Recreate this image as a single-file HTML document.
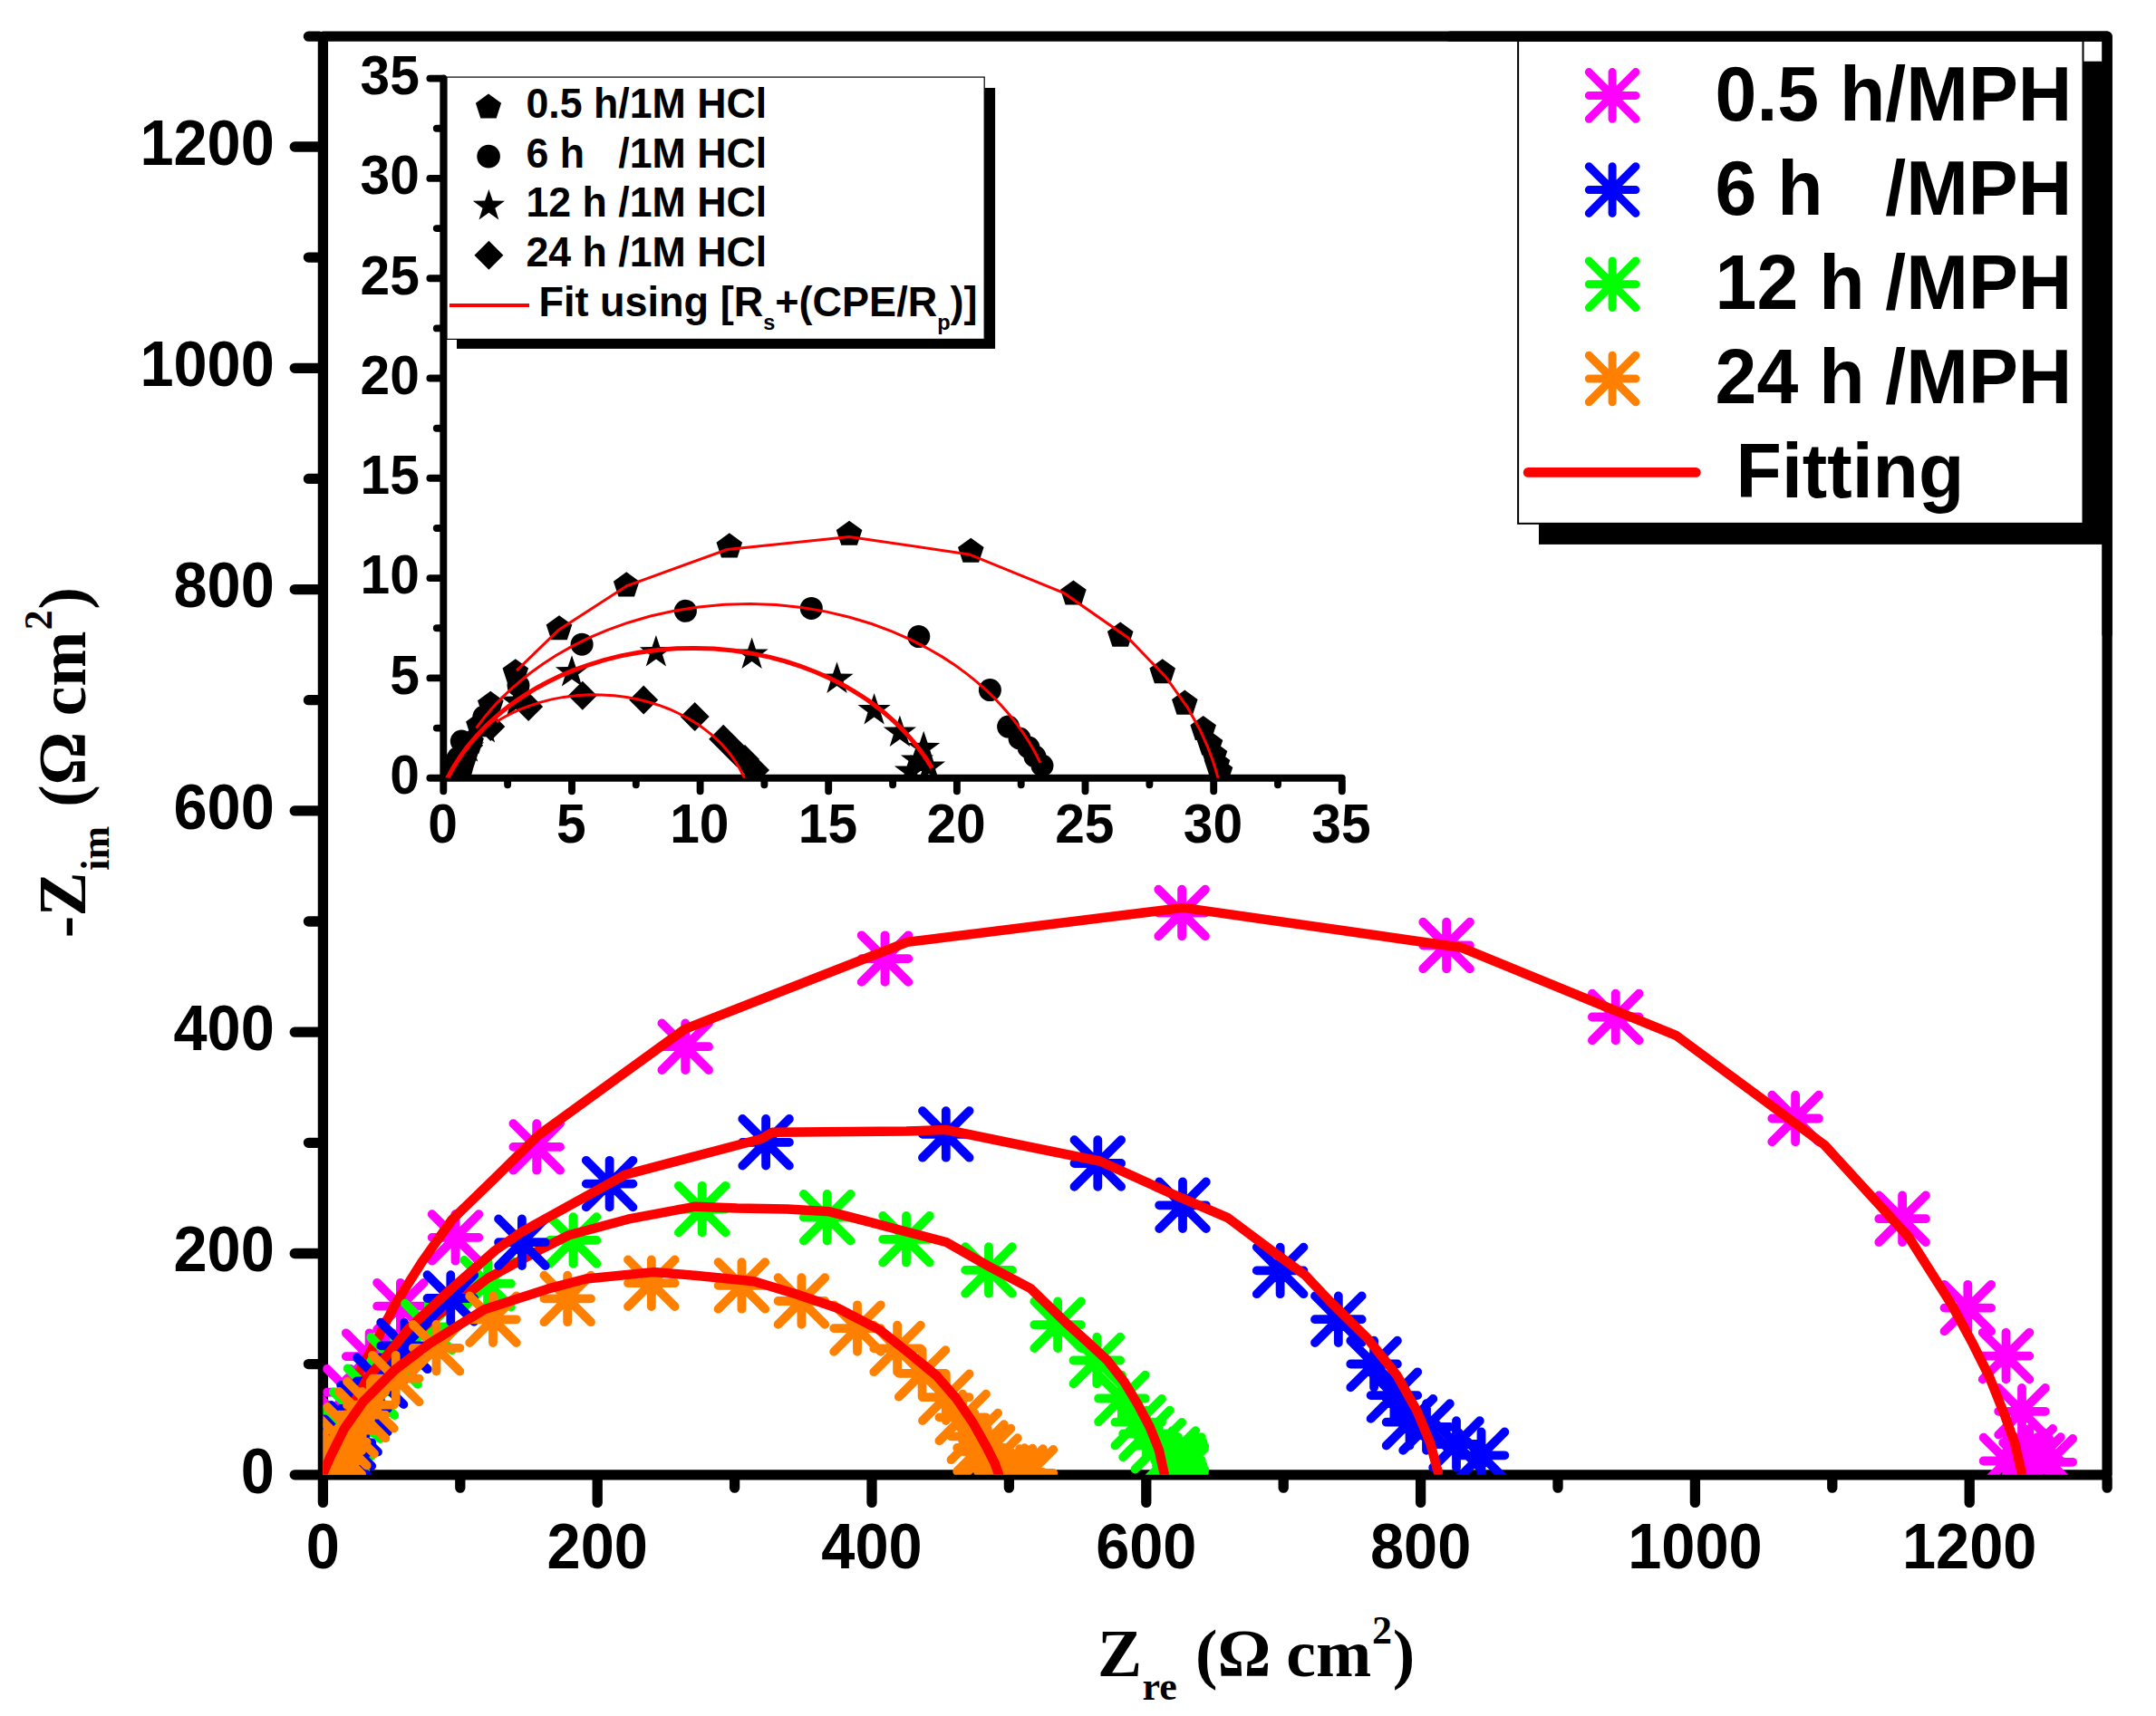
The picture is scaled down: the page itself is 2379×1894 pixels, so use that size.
<!DOCTYPE html><html><head><meta charset="utf-8"><title>Nyquist plot</title><style>html,body{margin:0;padding:0;background:#fff}svg{display:block}</style></head><body><svg width="2379" height="1894" viewBox="0 0 2379 1894">
<defs><clipPath id="cm"><rect x="356.4" y="40.2" width="1968.7" height="1587.6"/></clipPath>
<clipPath id="ci"><rect x="489.3" y="86.5" width="991.5" height="772.2"/></clipPath></defs>
<rect width="2379" height="1894" fill="#fff"/>
<g stroke="#000" stroke-width="11.3" stroke-linecap="round" stroke-linejoin="round" fill="none"><path d="M356.4 40.2H2325.1V1627.8H356.4Z"/><path d="M352.4 1627.8H325.2M356.4 1631.8V1658.4M352.4 1505.6H340.4M507.8 1631.8V1642.2M352.4 1383.5H325.2M659.2 1631.8V1658.4M352.4 1261.3H340.4M810.6 1631.8V1642.2M352.4 1139.2H325.2M962 1631.8V1658.4M352.4 1017H340.4M1113.4 1631.8V1642.2M352.4 894.9H325.2M1264.8 1631.8V1658.4M352.4 772.7H340.4M1416.2 1631.8V1642.2M352.4 650.6H325.2M1567.6 1631.8V1658.4M352.4 528.4H340.4M1719 1631.8V1642.2M352.4 406.3H325.2M1870.4 1631.8V1658.4M352.4 284.1H340.4M2021.8 1631.8V1642.2M352.4 162H325.2M2173.2 1631.8V1658.4M352.4 40.2H340.4M2325.1 1631.8V1642.2"/></g>
<g font-family="'Liberation Sans',Arial,sans-serif" font-weight="bold" font-size="66.7" fill="#000">
<text transform="translate(302.8 1647.6) scale(1 1.045)" text-anchor="end">0</text>
<text transform="translate(302.8 1403.3) scale(1 1.045)" text-anchor="end">200</text>
<text transform="translate(302.8 1159) scale(1 1.045)" text-anchor="end">400</text>
<text transform="translate(302.8 914.7) scale(1 1.045)" text-anchor="end">600</text>
<text transform="translate(302.8 670.4) scale(1 1.045)" text-anchor="end">800</text>
<text transform="translate(302.8 426.1) scale(1 1.045)" text-anchor="end">1000</text>
<text transform="translate(302.8 181.8) scale(1 1.045)" text-anchor="end">1200</text>
<text transform="translate(356.4 1730.7) scale(1 1.045)" text-anchor="middle">0</text>
<text transform="translate(659.2 1730.7) scale(1 1.045)" text-anchor="middle">200</text>
<text transform="translate(962 1730.7) scale(1 1.045)" text-anchor="middle">400</text>
<text transform="translate(1264.8 1730.7) scale(1 1.045)" text-anchor="middle">600</text>
<text transform="translate(1567.6 1730.7) scale(1 1.045)" text-anchor="middle">800</text>
<text transform="translate(1870.4 1730.7) scale(1 1.045)" text-anchor="middle">1000</text>
<text transform="translate(2173.2 1730.7) scale(1 1.045)" text-anchor="middle">1200</text>
</g>
<g font-family="'Liberation Serif','Times New Roman',serif" font-weight="bold" fill="#000">
<text y="1849.5"><tspan x="1211.1" y="1849.5" font-size="73.5">Z</tspan><tspan x="1260.4" y="1875.7" font-size="44">re</tspan><tspan x="1319.1" y="1849.5" font-size="73.5">(</tspan><tspan x="1343.5" y="1849.5" font-size="73.5">Ω</tspan><tspan x="1419.3" y="1849.5" font-size="73.5">cm</tspan><tspan x="1514" y="1814.2" font-size="44">2</tspan><tspan x="1536.8" y="1849.5" font-size="73.5">)</tspan></text>
<text transform="translate(93.8 1034) rotate(-90)"><tspan x="-1.2" y="0" font-size="73.5">-</tspan><tspan x="22.5" y="0" font-size="73.5">Z</tspan><tspan x="73.2" y="26.2" font-size="44">im</tspan><tspan x="143.2" y="0" font-size="73.5">(</tspan><tspan x="167.6" y="0" font-size="73.5">Ω</tspan><tspan x="243.7" y="0" font-size="73.5">cm</tspan><tspan x="338.7" y="-36.5" font-size="44">2</tspan><tspan x="361.6" y="0" font-size="73.5">)</tspan></text>
</g>
<g clip-path="url(#cm)" fill="none" stroke-linecap="round" stroke-linejoin="round">
<path stroke="#ff00ff" stroke-width="9.8" d="M331.8 1627H383.4M357.6 1601.2V1652.8M331.8 1601.2L383.4 1652.8M331.8 1652.8L383.4 1601.2M331.9 1626.6H383.5M357.7 1600.8V1652.4M331.9 1600.8L383.5 1652.4M331.9 1652.4L383.5 1600.8M332.1 1626H383.7M357.9 1600.2V1651.8M332.1 1600.2L383.7 1651.8M332.1 1651.8L383.7 1600.2M332.3 1625.2H383.9M358.1 1599.4V1651M332.3 1599.4L383.9 1651M332.3 1651L383.9 1599.4M332.7 1623.9H384.3M358.5 1598.1V1649.7M332.7 1598.1L384.3 1649.7M332.7 1649.7L384.3 1598.1M333.2 1622H384.8M359 1596.2V1647.8M333.2 1596.2L384.8 1647.8M333.2 1647.8L384.8 1596.2M334 1619.2H385.6M359.8 1593.4V1645M334 1593.4L385.6 1645M334 1645L385.6 1593.4M335.2 1615.1H386.8M361 1589.3V1640.9M335.2 1589.3L386.8 1640.9M335.2 1640.9L386.8 1589.3M337.1 1609H388.7M362.9 1583.2V1634.8M337.1 1583.2L388.7 1634.8M337.1 1634.8L388.7 1583.2M340 1600H391.6M365.8 1574.2V1625.8M340 1574.2L391.6 1625.8M340 1625.8L391.6 1574.2M344.4 1586.7H396M370.2 1560.9V1612.5M344.4 1560.9L396 1612.5M344.4 1612.5L396 1560.9M351.5 1567.3H403.1M377.3 1541.5V1593.1M351.5 1541.5L403.1 1593.1M351.5 1593.1L403.1 1541.5M360.8 1536.7H412.4M386.6 1510.9V1562.5M360.8 1510.9L412.4 1562.5M360.8 1562.5L412.4 1510.9M381.8 1497.1H433.4M407.6 1471.3V1522.9M381.8 1471.3L433.4 1522.9M381.8 1522.9L433.4 1471.3M416.1 1441.6H467.7M441.9 1415.8V1467.4M416.1 1415.8L467.7 1467.4M416.1 1467.4L467.7 1415.8M476.7 1365.9H528.3M502.5 1340.1V1391.7M476.7 1340.1L528.3 1391.7M476.7 1391.7L528.3 1340.1M566.4 1265.9H618M592.2 1240.1V1291.7M566.4 1240.1L618 1291.7M566.4 1291.7L618 1240.1M730.4 1155.2H782M756.2 1129.4V1181M730.4 1129.4L782 1181M730.4 1181L782 1129.4M950.7 1058.1H1002.3M976.5 1032.3V1083.9M950.7 1032.3L1002.3 1083.9M950.7 1083.9L1002.3 1032.3M1278.3 1007.5H1329.9M1304.1 981.7V1033.3M1278.3 981.7L1329.9 1033.3M1278.3 1033.3L1329.9 981.7M1570.3 1043.5H1621.9M1596.1 1017.7V1069.3M1570.3 1017.7L1621.9 1069.3M1570.3 1069.3L1621.9 1017.7M1756.9 1122.5H1808.5M1782.7 1096.7V1148.3M1756.9 1096.7L1808.5 1148.3M1756.9 1148.3L1808.5 1096.7M1955.3 1234.5H2006.9M1981.1 1208.7V1260.3M1955.3 1208.7L2006.9 1260.3M1955.3 1260.3L2006.9 1208.7M2073.3 1345.2H2124.9M2099.1 1319.4V1371M2073.3 1319.4L2124.9 1371M2073.3 1371L2124.9 1319.4M2145.5 1443.6H2197.1M2171.3 1417.8V1469.4M2145.5 1417.8L2197.1 1469.4M2145.5 1469.4L2197.1 1417.8M2187.7 1496.6H2239.3M2213.5 1470.8V1522.4M2187.7 1470.8L2239.3 1522.4M2187.7 1522.4L2239.3 1470.8M2205.2 1557.8H2256.8M2231 1532V1583.6M2205.2 1532L2256.8 1583.6M2205.2 1583.6L2256.8 1532M2213.5 1602.7H2265.1M2239.3 1576.9V1628.5M2213.5 1576.9L2265.1 1628.5M2213.5 1628.5L2265.1 1576.9M2188.7 1612.5H2240.3M2214.5 1586.7V1638.3M2188.7 1586.7L2240.3 1638.3M2188.7 1638.3L2240.3 1586.7M2235.5 1613.8H2287.1M2261.3 1588V1639.6M2235.5 1588L2287.1 1639.6M2235.5 1639.6L2287.1 1588M2210.2 1618H2261.8M2236 1592.2V1643.8M2210.2 1592.2L2261.8 1643.8M2210.2 1643.8L2261.8 1592.2M2222.2 1612H2273.8M2248 1586.2V1637.8M2222.2 1586.2L2273.8 1637.8M2222.2 1637.8L2273.8 1586.2"/>
<polyline stroke="#ff0000" stroke-width="10.5" points="357.5,1626.5 364.7,1607.3 372,1590 383,1560 397,1513.3 417.4,1475.8 435.9,1439.9 465.3,1393.2 498.4,1346.6 546.4,1300 594,1253 756.2,1135.6 1001,1039.8 1305.9,1001.9 1612,1045.7 1849.5,1142.9 2013.1,1263.6 2106.3,1365.6 2153.5,1440 2176.7,1482.8 2195.1,1519.6 2212.2,1562.4 2223.2,1593 2230.6,1625"/>
<path stroke="#00ff00" stroke-width="9.8" d="M341.4 1625.1H393M367.2 1599.3V1650.9M341.4 1599.3L393 1650.9M341.4 1650.9L393 1599.3M341.7 1624H393.3M367.5 1598.2V1649.8M341.7 1598.2L393.3 1649.8M341.7 1649.8L393.3 1598.2M342.3 1622.3H393.9M368.1 1596.5V1648.1M342.3 1596.5L393.9 1648.1M342.3 1648.1L393.9 1596.5M343 1619.9H394.6M368.8 1594.1V1645.7M343 1594.1L394.6 1645.7M343 1645.7L394.6 1594.1M344.1 1616.5H395.7M369.9 1590.7V1642.3M344.1 1590.7L395.7 1642.3M344.1 1642.3L395.7 1590.7M345.8 1611.7H397.4M371.6 1585.9V1637.5M345.8 1585.9L397.4 1637.5M345.8 1637.5L397.4 1585.9M348.3 1604.8H399.9M374.1 1579V1630.6M348.3 1579L399.9 1630.6M348.3 1630.6L399.9 1579M352.2 1595H403.8M378 1569.2V1620.8M352.2 1569.2L403.8 1620.8M352.2 1620.8L403.8 1569.2M358.2 1581.3H409.8M384 1555.5V1607.1M358.2 1555.5L409.8 1607.1M358.2 1607.1L409.8 1555.5M367.9 1562.2H419.5M393.7 1536.4V1588M367.9 1536.4L419.5 1588M367.9 1588L419.5 1536.4M383.6 1536.2H435.2M409.4 1510.4V1562M383.6 1510.4L435.2 1562M383.6 1562L435.2 1510.4M409.3 1502H460.9M435.1 1476.2V1527.8M409.3 1476.2L460.9 1527.8M409.3 1527.8L460.9 1476.2M447.1 1464.5H498.7M472.9 1438.7V1490.3M447.1 1438.7L498.7 1490.3M447.1 1490.3L498.7 1438.7M512.3 1416.7H563.9M538.1 1390.9V1442.5M512.3 1390.9L563.9 1442.5M512.3 1442.5L563.9 1390.9M606.7 1368.9H658.3M632.5 1343.1V1394.7M606.7 1343.1L658.3 1394.7M606.7 1394.7L658.3 1343.1M748.9 1334.6H800.5M774.7 1308.8V1360.4M748.9 1308.8L800.5 1360.4M748.9 1360.4L800.5 1308.8M886.9 1343.7H938.5M912.7 1317.9V1369.5M886.9 1317.9L938.5 1369.5M886.9 1369.5L938.5 1317.9M974.2 1367.8H1025.8M1000 1342V1393.6M974.2 1342L1025.8 1393.6M974.2 1393.6L1025.8 1342M1065.2 1401.9H1116.8M1091 1376.1V1427.7M1065.2 1376.1L1116.8 1427.7M1065.2 1427.7L1116.8 1376.1M1141.3 1462.2H1192.9M1167.1 1436.4V1488M1141.3 1436.4L1192.9 1488M1141.3 1488L1192.9 1436.4M1184.5 1501.5H1236.1M1210.3 1475.7V1527.3M1184.5 1475.7L1236.1 1527.3M1184.5 1527.3L1236.1 1475.7M1212.1 1543.5H1263.7M1237.9 1517.7V1569.3M1212.1 1517.7L1263.7 1569.3M1212.1 1569.3L1263.7 1517.7M1230.4 1569.7H1282M1256.2 1543.9V1595.5M1230.4 1543.9L1282 1595.5M1230.4 1595.5L1282 1543.9M1239.2 1582.4H1290.8M1265 1556.6V1608.2M1239.2 1556.6L1290.8 1608.2M1239.2 1608.2L1290.8 1556.6M1252.5 1595.7H1304.1M1278.3 1569.9V1621.5M1252.5 1569.9L1304.1 1621.5M1252.5 1621.5L1304.1 1569.9M1267.6 1604.9H1319.2M1293.4 1579.1V1630.7M1267.6 1579.1L1319.2 1630.7M1267.6 1630.7L1319.2 1579.1M1275.9 1617.4H1327.5M1301.7 1591.6V1643.2M1275.9 1591.6L1327.5 1643.2M1275.9 1643.2L1327.5 1591.6M1277.7 1622H1329.3M1303.5 1596.2V1647.8M1277.7 1596.2L1329.3 1647.8M1277.7 1647.8L1329.3 1596.2M1274.2 1612H1325.8M1300 1586.2V1637.8M1274.2 1586.2L1325.8 1637.8M1274.2 1637.8L1325.8 1586.2M1277.2 1625H1328.8M1303 1599.2V1650.8M1277.2 1599.2L1328.8 1650.8M1277.2 1650.8L1328.8 1599.2"/>
<polyline stroke="#ff0000" stroke-width="10.5" points="357.5,1626.5 364.7,1607.3 372,1590 385,1562 405,1530 425,1505 451,1478.5 481.4,1452.7 519.2,1425.5 538.1,1410.8 600,1377.2 627.8,1363.3 692.8,1345.7 767,1331.7 813.4,1333.6 869,1334.5 915.4,1337.3 961.8,1349.4 1000,1359.5 1044.1,1371 1092.8,1398.6 1136.8,1421.8 1176.3,1460 1198.7,1480 1222.1,1501.7 1240.4,1525.1 1255.5,1550.1 1268.8,1575.2 1278.8,1600.2 1284.7,1626.9"/>
<path stroke="#0000ff" stroke-width="9.8" d="M346.3 1626H397.9M372.1 1600.2V1651.8M346.3 1600.2L397.9 1651.8M346.3 1651.8L397.9 1600.2M346.6 1625.2H398.2M372.4 1599.4V1651M346.6 1599.4L398.2 1651M346.6 1651L398.2 1599.4M347 1624H398.6M372.8 1598.2V1649.8M347 1598.2L398.6 1649.8M347 1649.8L398.6 1598.2M347.5 1622.2H399.1M373.3 1596.4V1648M347.5 1596.4L399.1 1648M347.5 1648L399.1 1596.4M348.4 1619.7H400M374.2 1593.9V1645.5M348.4 1593.9L400 1645.5M348.4 1645.5L400 1593.9M349.6 1616.1H401.2M375.4 1590.3V1641.9M349.6 1590.3L401.2 1641.9M349.6 1641.9L401.2 1590.3M351.5 1610.8H403.1M377.3 1585V1636.6M351.5 1585L403.1 1636.6M351.5 1636.6L403.1 1585M354.3 1603.2H405.9M380.1 1577.4V1629M354.3 1577.4L405.9 1629M354.3 1629L405.9 1577.4M358.6 1592.3H410.2M384.4 1566.5V1618.1M358.6 1566.5L410.2 1618.1M358.6 1618.1L410.2 1566.5M365.4 1576.8H417M391.2 1551V1602.6M365.4 1551L417 1602.6M365.4 1602.6L417 1551M376.2 1554.8H427.8M402 1529V1580.6M376.2 1529L427.8 1580.6M376.2 1580.6L427.8 1529M393.8 1524.3H445.4M419.6 1498.5V1550.1M393.8 1498.5L445.4 1550.1M393.8 1550.1L445.4 1498.5M420.2 1485.4H471.8M446 1459.6V1511.2M420.2 1459.6L471.8 1511.2M420.2 1511.2L471.8 1459.6M471.5 1433H523.1M497.3 1407.2V1458.8M471.5 1407.2L523.1 1458.8M471.5 1458.8L523.1 1407.2M550.1 1371.2H601.7M575.9 1345.4V1397M550.1 1345.4L601.7 1397M550.1 1397L601.7 1345.4M646.8 1306.6H698.4M672.6 1280.8V1332.4M646.8 1280.8L698.4 1332.4M646.8 1332.4L698.4 1280.8M819.3 1260.8H870.9M845.1 1235V1286.6M819.3 1235L870.9 1286.6M819.3 1286.6L870.9 1235M1018 1251.9H1069.6M1043.8 1226.1V1277.7M1018 1226.1L1069.6 1277.7M1018 1277.7L1069.6 1226.1M1185.5 1284H1237.1M1211.3 1258.2V1309.8M1185.5 1258.2L1237.1 1309.8M1185.5 1309.8L1237.1 1258.2M1279.2 1330.3H1330.8M1305 1304.5V1356.1M1279.2 1304.5L1330.8 1356.1M1279.2 1356.1L1330.8 1304.5M1386.8 1402.4H1438.4M1412.6 1376.6V1428.2M1386.8 1376.6L1438.4 1428.2M1386.8 1428.2L1438.4 1376.6M1451 1456.2H1502.6M1476.8 1430.4V1482M1451 1430.4L1502.6 1482M1451 1482L1502.6 1430.4M1490.3 1505.5H1541.9M1516.1 1479.7V1531.3M1490.3 1479.7L1541.9 1531.3M1490.3 1531.3L1541.9 1479.7M1512.6 1540.1H1564.2M1538.4 1514.3V1565.9M1512.6 1514.3L1564.2 1565.9M1512.6 1565.9L1564.2 1514.3M1529.7 1569.7H1581.3M1555.5 1543.9V1595.5M1529.7 1543.9L1581.3 1595.5M1529.7 1595.5L1581.3 1543.9M1548.2 1575H1599.8M1574 1549.2V1600.8M1548.2 1549.2L1599.8 1600.8M1548.2 1600.8L1599.8 1549.2M1581.2 1594H1632.8M1607 1568.2V1619.8M1581.2 1568.2L1632.8 1619.8M1581.2 1619.8L1632.8 1568.2M1608.7 1606.3H1660.3M1634.5 1580.5V1632.1M1608.7 1580.5L1660.3 1632.1M1608.7 1632.1L1660.3 1580.5"/>
<polyline stroke="#ff0000" stroke-width="10.5" points="357.5,1626.5 364.7,1607.3 372,1590 383,1562 405.6,1520.9 423.8,1499.7 451,1466.4 496.5,1423.9 546.5,1380 575.9,1359.6 689.7,1296.6 840,1257 852.4,1249.8 1000,1248.5 1044.1,1247 1139.1,1266.5 1213.4,1281.5 1289.9,1316.2 1354.8,1344.1 1405.8,1382.3 1440.6,1407.8 1468.1,1437 1508.5,1476.7 1541.6,1518.3 1563.6,1557.5 1578.3,1593 1586.8,1625"/>
<path stroke="#ff8000" stroke-width="9.8" d="M335.5 1625.8H387.1M361.3 1600V1651.6M335.5 1600L387.1 1651.6M335.5 1651.6L387.1 1600M335.8 1625H387.4M361.6 1599.2V1650.8M335.8 1599.2L387.4 1650.8M335.8 1650.8L387.4 1599.2M336.3 1624H387.9M362.1 1598.2V1649.8M336.3 1598.2L387.9 1649.8M336.3 1649.8L387.9 1598.2M336.9 1622.5H388.5M362.7 1596.7V1648.3M336.9 1596.7L388.5 1648.3M336.9 1648.3L388.5 1596.7M337.8 1620.5H389.4M363.6 1594.7V1646.3M337.8 1594.7L389.4 1646.3M337.8 1646.3L389.4 1594.7M339.1 1617.7H390.7M364.9 1591.9V1643.5M339.1 1591.9L390.7 1643.5M339.1 1643.5L390.7 1591.9M341 1613.8H392.6M366.8 1588V1639.6M341 1588L392.6 1639.6M341 1639.6L392.6 1588M343.6 1608.6H395.2M369.4 1582.8V1634.4M343.6 1582.8L395.2 1634.4M343.6 1634.4L395.2 1582.8M347.5 1601.4H399.1M373.3 1575.6V1627.2M347.5 1575.6L399.1 1627.2M347.5 1627.2L399.1 1575.6M353.1 1591.7H404.7M378.9 1565.9V1617.5M353.1 1565.9L404.7 1617.5M353.1 1617.5L404.7 1565.9M361.4 1578.7H413M387.2 1552.9V1604.5M361.4 1552.9L413 1604.5M361.4 1604.5L413 1552.9M373.8 1561.6H425.4M399.6 1535.8V1587.4M373.8 1535.8L425.4 1587.4M373.8 1587.4L425.4 1535.8M383 1550.7H434.6M408.8 1524.9V1576.5M383 1524.9L434.6 1576.5M383 1576.5L434.6 1524.9M410.9 1521.6H462.5M436.7 1495.8V1547.4M410.9 1495.8L462.5 1547.4M410.9 1547.4L462.5 1495.8M455.7 1487.8H507.3M481.5 1462V1513.6M455.7 1462L507.3 1513.6M455.7 1513.6L507.3 1462M518.2 1456.3H569.8M544 1430.5V1482.1M518.2 1430.5L569.8 1482.1M518.2 1482.1L569.8 1430.5M600.4 1433.4H652M626.2 1407.6V1459.2M600.4 1407.6L652 1459.2M600.4 1459.2L652 1407.6M693 1416.2H744.6M718.8 1390.4V1442M693 1390.4L744.6 1442M693 1442L744.6 1390.4M792.6 1418.9H844.2M818.4 1393.1V1444.7M792.6 1393.1L844.2 1444.7M792.6 1444.7L844.2 1393.1M858.6 1436H910.2M884.4 1410.2V1461.8M858.6 1410.2L910.2 1461.8M858.6 1461.8L910.2 1410.2M920.2 1466.1H971.8M946 1440.3V1491.9M920.2 1440.3L971.8 1491.9M920.2 1491.9L971.8 1440.3M964.3 1488.4H1015.9M990.1 1462.6V1514.2M964.3 1462.6L1015.9 1514.2M964.3 1514.2L1015.9 1462.6M991.8 1515.9H1043.4M1017.6 1490.1V1541.7M991.8 1490.1L1043.4 1541.7M991.8 1541.7L1043.4 1490.1M1018 1542.2H1069.6M1043.8 1516.4V1568M1018 1516.4L1069.6 1568M1018 1568L1069.6 1516.4M1036.4 1564.4H1088M1062.2 1538.6V1590.2M1036.4 1538.6L1088 1590.2M1036.4 1590.2L1088 1538.6M1049.5 1585.4H1101.1M1075.3 1559.6V1611.2M1049.5 1559.6L1101.1 1611.2M1049.5 1611.2L1101.1 1559.6M1056.2 1598H1107.8M1082 1572.2V1623.8M1056.2 1572.2L1107.8 1623.8M1056.2 1623.8L1107.8 1572.2M1063.9 1602.4H1115.5M1089.7 1576.6V1628.2M1063.9 1576.6L1115.5 1628.2M1063.9 1628.2L1115.5 1576.6M1071.2 1613H1122.8M1097 1587.2V1638.8M1071.2 1587.2L1122.8 1638.8M1071.2 1638.8L1122.8 1587.2M1078.9 1624H1130.5M1104.7 1598.2V1649.8M1078.9 1598.2L1130.5 1649.8M1078.9 1649.8L1130.5 1598.2M1087.7 1624.5H1139.3M1113.5 1598.7V1650.3M1087.7 1598.7L1139.3 1650.3M1087.7 1650.3L1139.3 1598.7M1099.2 1625H1150.8M1125 1599.2V1650.8M1099.2 1599.2L1150.8 1650.8M1099.2 1650.8L1150.8 1599.2M1110.6 1625.8H1162.2M1136.4 1600V1651.6M1110.6 1600L1162.2 1651.6M1110.6 1651.6L1162.2 1600"/>
<polyline stroke="#ff0000" stroke-width="10.5" points="356.4,1626.5 364.7,1607.3 379.8,1577 401,1546.7 435.9,1511.8 473.8,1483 534.4,1445.2 605,1422.4 646.4,1411.5 720.6,1404.1 767,1407.8 831.9,1414.3 878.3,1428.2 924.7,1444 971.1,1468.1 1000,1491 1033.4,1518.4 1055.1,1543.4 1073.5,1570.2 1088.5,1596.9 1097.7,1615.2 1101.9,1626.9"/>
</g>
<g stroke="#000" stroke-width="7.9" stroke-linecap="round" fill="none"><path d="M489.3 86.5V873.3M474.4 858.7H1480.8M486.8 803.6H481.8M560.1 861.2V866.2M486.8 748.4H474.4M631 861.2V873.3M486.8 693.2H481.8M701.8 861.2V866.2M486.8 638.1H474.4M772.6 861.2V873.3M486.8 583H481.8M843.4 861.2V866.2M486.8 527.8H474.4M914.2 861.2V873.3M486.8 472.7H481.8M985.1 861.2V866.2M486.8 417.5H474.4M1055.9 861.2V873.3M486.8 362.4H481.8M1126.7 861.2V866.2M486.8 307.2H474.4M1197.5 861.2V873.3M486.8 252.1H481.8M1268.4 861.2V866.2M486.8 196.9H474.4M1339.2 861.2V873.3M486.8 141.8H481.8M1410 861.2V866.2M486.8 86.6H474.4M1480.8 861.2V873.3"/></g>
<g font-family="'Liberation Sans',Arial,sans-serif" font-weight="bold" font-size="58.7" fill="#000">
<text transform="translate(462.8 876) scale(1 1.03)" text-anchor="end">0</text>
<text transform="translate(488.5 929.6) scale(1 1.03)" text-anchor="middle">0</text>
<text transform="translate(462.8 765.7) scale(1 1.03)" text-anchor="end">5</text>
<text transform="translate(630.2 929.6) scale(1 1.03)" text-anchor="middle">5</text>
<text transform="translate(462.8 655.4) scale(1 1.03)" text-anchor="end">10</text>
<text transform="translate(771.8 929.6) scale(1 1.03)" text-anchor="middle">10</text>
<text transform="translate(462.8 545.1) scale(1 1.03)" text-anchor="end">15</text>
<text transform="translate(913.5 929.6) scale(1 1.03)" text-anchor="middle">15</text>
<text transform="translate(462.8 434.8) scale(1 1.03)" text-anchor="end">20</text>
<text transform="translate(1055.1 929.6) scale(1 1.03)" text-anchor="middle">20</text>
<text transform="translate(462.8 324.5) scale(1 1.03)" text-anchor="end">25</text>
<text transform="translate(1196.8 929.6) scale(1 1.03)" text-anchor="middle">25</text>
<text transform="translate(462.8 214.2) scale(1 1.03)" text-anchor="end">30</text>
<text transform="translate(1338.4 929.6) scale(1 1.03)" text-anchor="middle">30</text>
<text transform="translate(462.8 103.9) scale(1 1.03)" text-anchor="end">35</text>
<text transform="translate(1480 929.6) scale(1 1.03)" text-anchor="middle">35</text>
</g>
<g clip-path="url(#ci)">
<path fill="#000" d="M506.4 843.4L520.7 853.8L515.3 870.6L497.6 870.6L492.2 853.8ZM506.7 842.6L520.9 852.9L515.5 869.7L497.9 869.7L492.4 852.9ZM507 841.3L521.3 851.7L515.8 868.5L498.2 868.5L492.7 851.7ZM507.5 839.4L521.8 849.8L516.3 866.6L498.7 866.6L493.2 849.8ZM508.3 836.7L522.6 847L517.1 863.8L499.5 863.8L494 847ZM509.5 832.6L523.8 842.9L518.3 859.7L500.7 859.7L495.2 842.9ZM511.4 826.5L525.7 836.9L520.2 853.7L502.6 853.7L497.1 836.9ZM514.5 817.6L528.8 828L523.3 844.8L505.7 844.8L500.2 828ZM519.6 804.7L533.9 815.1L528.4 831.8L510.8 831.8L505.4 815.1ZM528.3 786.1L542.6 796.4L537.1 813.2L519.5 813.2L514.1 796.4ZM541.3 762.8L555.6 773.2L550.1 789.9L532.5 789.9L527 773.2ZM568.8 727.2L583.1 737.6L577.6 754.3L560 754.3L554.5 737.6ZM617 679.2L631.3 689.6L625.8 706.3L608.2 706.3L602.7 689.6ZM691.2 631.3L705.5 641.7L700 658.4L682.4 658.4L676.9 641.7ZM804.8 588.3L819.1 598.7L813.6 615.4L796 615.4L790.5 598.7ZM937.1 574.7L951.4 585.1L945.9 601.8L928.3 601.8L922.8 585.1ZM1071.3 593.7L1085.6 604.1L1080.1 620.8L1062.5 620.8L1057 604.1ZM1184.4 640.4L1198.7 650.8L1193.2 667.5L1175.6 667.5L1170.1 650.8ZM1236.2 686.6L1250.5 697L1245 713.7L1227.4 713.7L1221.9 697ZM1282.7 727.2L1297 737.6L1291.5 754.3L1273.9 754.3L1268.4 737.6ZM1307.3 761.6L1321.6 772L1316.1 788.7L1298.5 788.7L1293 772ZM1327.7 789.9L1342 800.3L1336.5 817L1318.9 817L1313.4 800.3ZM1335 806.5L1349.3 816.9L1343.8 833.6L1326.2 833.6L1320.7 816.9ZM1340 818.5L1354.3 828.9L1348.8 845.6L1331.2 845.6L1325.7 828.9ZM1343 828.5L1357.3 838.9L1351.8 855.6L1334.2 855.6L1328.7 838.9ZM1346 836.5L1360.3 846.9L1354.8 863.6L1337.2 863.6L1331.7 846.9Z"/>
<path fill="#000" d="M483.3 858.5a12.5 12.5 0 1 0 25 0a12.5 12.5 0 1 0 -25 0ZM483.4 858.4a12.5 12.5 0 1 0 25 0a12.5 12.5 0 1 0 -25 0ZM483.5 858.2a12.5 12.5 0 1 0 25 0a12.5 12.5 0 1 0 -25 0ZM483.6 857.9a12.5 12.5 0 1 0 25 0a12.5 12.5 0 1 0 -25 0ZM483.8 857.3a12.5 12.5 0 1 0 25 0a12.5 12.5 0 1 0 -25 0ZM484.2 856.2a12.5 12.5 0 1 0 25 0a12.5 12.5 0 1 0 -25 0ZM485 854.4a12.5 12.5 0 1 0 25 0a12.5 12.5 0 1 0 -25 0ZM486.3 851.2a12.5 12.5 0 1 0 25 0a12.5 12.5 0 1 0 -25 0ZM488.7 845.7a12.5 12.5 0 1 0 25 0a12.5 12.5 0 1 0 -25 0ZM493.2 836.2a12.5 12.5 0 1 0 25 0a12.5 12.5 0 1 0 -25 0ZM496.8 818.1a12.5 12.5 0 1 0 25 0a12.5 12.5 0 1 0 -25 0ZM521.4 791.1a12.5 12.5 0 1 0 25 0a12.5 12.5 0 1 0 -25 0ZM559.5 756.7a12.5 12.5 0 1 0 25 0a12.5 12.5 0 1 0 -25 0ZM629.6 711.2a12.5 12.5 0 1 0 25 0a12.5 12.5 0 1 0 -25 0ZM743.9 674.3a12.5 12.5 0 1 0 25 0a12.5 12.5 0 1 0 -25 0ZM882.8 671.4a12.5 12.5 0 1 0 25 0a12.5 12.5 0 1 0 -25 0ZM1001.3 702.6a12.5 12.5 0 1 0 25 0a12.5 12.5 0 1 0 -25 0ZM1079.9 761.6a12.5 12.5 0 1 0 25 0a12.5 12.5 0 1 0 -25 0ZM1100.1 802.1a12.5 12.5 0 1 0 25 0a12.5 12.5 0 1 0 -25 0ZM1112.5 815a12.5 12.5 0 1 0 25 0a12.5 12.5 0 1 0 -25 0ZM1122.5 825a12.5 12.5 0 1 0 25 0a12.5 12.5 0 1 0 -25 0ZM1129.5 835a12.5 12.5 0 1 0 25 0a12.5 12.5 0 1 0 -25 0ZM1137.5 845a12.5 12.5 0 1 0 25 0a12.5 12.5 0 1 0 -25 0Z"/>
<path fill="#000" d="M494.4 840.3L498.8 853.2L512.4 853.4L501.5 861.6L505.5 874.7L494.4 866.8L483.2 874.7L487.2 861.6L476.3 853.4L490 853.2ZM494.7 839.7L499.1 852.6L512.8 852.8L501.8 861L505.9 874.1L494.7 866.2L483.5 874.1L487.6 861L476.6 852.8L490.3 852.6ZM495.2 838.6L499.6 851.6L513.3 851.8L502.4 859.9L506.4 873L495.2 865.1L484.1 873L488.1 859.9L477.2 851.8L490.8 851.6ZM496.2 836.8L500.6 849.8L514.3 849.9L503.3 858.1L507.4 871.2L496.2 863.3L485 871.2L489.1 858.1L478.1 849.9L491.8 849.8ZM497.9 833.8L502.3 846.7L515.9 846.9L505 855.1L509 868.1L497.9 860.3L486.7 868.1L490.7 855.1L479.8 846.9L493.5 846.7ZM500.8 828.6L505.2 841.6L518.9 841.8L508 849.9L512 863L500.8 855.1L489.7 863L493.7 849.9L482.8 841.8L496.4 841.6ZM506.2 820.1L510.6 833L524.3 833.2L513.3 841.4L517.4 854.5L506.2 846.6L495 854.5L499.1 841.4L488.1 833.2L501.8 833ZM516.2 806.3L520.6 819.3L534.2 819.5L523.3 827.7L527.3 840.7L516.2 832.8L505 840.7L509 827.7L498.1 819.5L511.7 819.3ZM534.9 785.1L539.3 798.1L553 798.3L542.1 806.5L546.1 819.5L534.9 811.6L523.8 819.5L527.8 806.5L516.9 798.3L530.5 798.1ZM570.3 755.6L574.7 768.6L588.3 768.8L577.4 776.9L581.4 790L570.3 782.1L559.1 790L563.1 776.9L552.2 768.8L565.9 768.6ZM631 723.2L635.4 736.1L649.1 736.3L638.1 744.5L642.2 757.6L631 749.7L619.8 757.6L623.9 744.5L612.9 736.3L626.6 736.1ZM723.9 701.1L728.3 714L742 714.2L731 722.4L735.1 735.5L723.9 727.6L712.7 735.5L716.8 722.4L705.8 714.2L719.5 714ZM829.6 703.5L834 716.4L847.7 716.6L836.7 724.8L840.8 737.9L829.6 730L818.4 737.9L822.5 724.8L811.5 716.6L825.2 716.4ZM923.5 730.6L927.9 743.5L941.6 743.7L930.6 751.9L934.7 765L923.5 757.1L912.3 765L916.4 751.9L905.4 743.7L919.1 743.5ZM964.6 765L969 777.9L982.7 778.1L971.7 786.3L975.8 799.4L964.6 791.5L953.4 799.4L957.5 786.3L946.5 778.1L960.2 777.9ZM992.9 789.5L997.3 802.4L1011 802.6L1000 810.8L1004.1 823.9L992.9 816L981.7 823.9L985.8 810.8L974.8 802.6L988.5 802.4ZM1019.2 806.8L1023.6 819.7L1037.3 819.9L1026.3 828.1L1030.4 841.2L1019.2 833.3L1008 841.2L1012.1 828.1L1001.1 819.9L1014.8 819.7ZM1025 827.5L1029.4 840.4L1043.1 840.6L1032.1 848.8L1036.2 861.9L1025 854L1013.8 861.9L1017.9 848.8L1006.9 840.6L1020.6 840.4ZM1005 832.5L1009.4 845.4L1023.1 845.6L1012.1 853.8L1016.2 866.9L1005 859L993.8 866.9L997.9 853.8L986.9 845.6L1000.6 845.4ZM1012 820.5L1016.4 833.4L1030.1 833.6L1019.1 841.8L1023.2 854.9L1012 847L1000.8 854.9L1004.9 841.8L993.9 833.6L1007.6 833.4Z"/>
<path fill="#000" d="M492 842.4L508 858.4L492 874.4L476 858.4ZM492.1 842.2L508.1 858.2L492.1 874.2L476.1 858.2ZM492.3 841.8L508.3 857.8L492.3 873.8L476.3 857.8ZM492.6 841.2L508.6 857.2L492.6 873.2L476.6 857.2ZM493.1 840.1L509.1 856.1L493.1 872.1L477.1 856.1ZM494.1 838.3L510.1 854.3L494.1 870.3L478.1 854.3ZM495.8 835.1L511.8 851.1L495.8 867.1L479.8 851.1ZM499 829.6L515 845.6L499 861.6L483 845.6ZM505.2 820.7L521.2 836.7L505.2 852.7L489.2 836.7ZM517.1 806.7L533.1 822.7L517.1 838.7L501.1 822.7ZM541.3 786.1L557.3 802.1L541.3 818.1L525.3 802.1ZM583.1 764L599.1 780L583.1 796L567.1 780ZM642.8 751.7L658.8 767.7L642.8 783.7L626.8 767.7ZM710.2 756.6L726.2 772.6L710.2 788.6L694.2 772.6ZM766.7 775.1L782.7 791.1L766.7 807.1L750.7 791.1ZM798.2 799.7L814.2 815.7L798.2 831.7L782.2 815.7ZM812.9 814.4L828.9 830.4L812.9 846.4L796.9 830.4ZM822 822L838 838L822 854L806 838ZM828 829L844 845L828 861L812 845ZM833 834L849 850L833 866L817 850Z"/>
<polyline fill="none" stroke="#ff0000" stroke-width="3" points="570.1,740.2 616.2,695.4 691.8,646.5 802.2,606.5 937.2,592.5 1069.6,611.9 1174.2,654.7 1244.1,703.5 1286.2,747 1310.4,780.9 1324.2,805.7 1332.1,823.3 1336.8,835.4 1339.6,843.7 1341.4,849.4 1342.5,853.2 1343.2,855.8 1343.7,857.6 1344,858.8 1344.2,859.6 1344.4,860.1 1344.5,860.5 1344.5,860.7 1344.6,860.9 1344.6,861 1344.6,861 1344.6,861.1 1344.6,861.1 1344.6,861.2 1344.6,861.2 1344.6,861.2 1344.6,861.2 1344.6,861.2 1344.6,861.2 1344.6,861.2 1344.6,861.2 1344.6,861.2 1344.6,861.2 1344.6,861.2 1344.6,861.2 1344.7,861.2"/>
<polyline fill="none" stroke="#ff0000" stroke-width="3" points="525.5,803.6 529.8,797.8 534.8,791.4 540.6,784.5 547.2,777.1 554.9,769.1 563.8,760.7 573.9,751.8 585.6,742.5 598.8,733 613.8,723.3 630.7,713.6 649.5,704.2 670.3,695.3 693.1,687.2 717.6,680 743.6,674.2 771,669.9 799.2,667.3 827.8,666.5 856.4,667.6 884.5,670.5 911.7,675.1 937.5,681.2 961.7,688.5 984.1,696.8 1004.6,705.8 1023,715.3 1039.6,724.9 1054.3,734.6 1067.3,744.1 1078.7,753.4 1088.6,762.2 1097.2,770.5 1104.7,778.4 1111.2,785.7 1116.8,792.5 1121.7,798.8 1125.9,804.6 1129.6,809.8 1132.7,814.6 1135.5,819 1137.8,823 1139.9,826.6 1141.7,829.8 1143.3,832.8 1144.6,835.4 1145.8,837.8 1146.9,840 1147.8,841.9"/>
<polyline fill="none" stroke="#ff0000" stroke-width="5" points="494,858.6 494,858.6 494,858.6 494,858.6 494,858.5 494,858.5 494,858.5 494,858.5 494,858.5 494.1,858.4 494.1,858.4 494.1,858.4 494.1,858.3 494.1,858.3 494.2,858.2 494.2,858.2 494.2,858.1 494.2,858.1 494.3,858 494.3,857.9 494.4,857.8 494.4,857.7 494.5,857.6 494.5,857.5 494.6,857.3 494.7,857.2 494.8,857 494.9,856.8 495,856.6 495.1,856.4 495.2,856.1 495.4,855.8 495.6,855.5 495.8,855.2 496,854.8 496.2,854.3 496.5,853.8 496.8,853.3 497.1,852.7 497.5,852 497.9,851.3 498.3,850.4 498.9,849.5 499.4,848.5 500.1,847.4 500.8,846.1 501.7,844.7 502.6,843.2 503.7,841.5 504.9,839.7 506.2,837.6 507.7,835.3 509.5,832.8 511.4,830.1 513.6,827.1 516.2,823.8 519,820.3 522.3,816.4 526,812.1 530.2,807.6 534.9,802.6 540.4,797.4 546.5,791.8 553.5,785.8 561.4,779.6 570.3,773.1 580.2,766.5 591.4,759.7 603.8,753 617.5,746.3 632.5,739.9 648.8,734 666.3,728.6 684.9,723.9 704.6,720.2 725,717.4 745.9,715.8 767,715.4 788.1,716.1 808.9,718.1 829.1,721.1 848.5,725.1 866.9,730 884.1,735.6 900,741.7 914.6,748.1 928,754.8 940,761.6 950.8,768.3 960.5,774.9 969.1,781.4 976.7,787.5 983.4,793.3 989.4,798.9 994.6,804 999.2,808.9 1003.3,813.3 1006.9,817.5 1010,821.3 1012.8,824.8 1015.2,828 1017.3,830.9 1019.2,833.6 1020.9,836 1022.4,838.2 1023.7,840.2 1024.8,842 1025.8,843.7 1026.8,845.1 1027.6,846.5 1028.3,847.7"/>
<polyline fill="none" stroke="#ff0000" stroke-width="3" points="547.6,796.6 555.5,792 564.3,787.4 574.1,782.9 584.8,778.8 596.4,775.1 608.8,771.9 622,769.4 635.7,767.7 649.7,766.8 663.8,766.9 677.8,767.7 691.4,769.5 704.6,772 717,775.2 728.6,778.9 739.3,783 749,787.5 757.8,792.1 765.7,796.7 772.7,801.3 778.8,805.9 784.2,810.2 789,814.4 793.1,818.3 796.7,821.9 799.8,825.4 802.5,828.5 804.9,831.4 806.9,834.1 808.7,836.5 810.2,838.7 811.5,840.7 812.7,842.6 813.7,844.2 814.6,845.7 815.4,847 816.1,848.3 816.7,849.3 817.2,850.3 817.7,851.2 818.1,852 818.4,852.7 818.8,853.3 819,853.9 819.3,854.4 819.5,854.9 819.7,855.3 819.9,855.6 820,856 820.2,856.2 820.3,856.5 820.4,856.7 820.5,857 820.6,857.1 820.6,857.3 820.7,857.5 820.8,857.6 820.8,857.7 820.9,857.8 820.9,857.9 821,858 821,858.1 821,858.1 821,858.2 821.1,858.2 821.1,858.3 821.1,858.3 821.1,858.4 821.1,858.4 821.2,858.4 821.2,858.5 821.2,858.5 821.2,858.5 821.2,858.5 821.2,858.6 821.2,858.6 821.2,858.6 821.2,858.6 821.2,858.6 821.2,858.6 821.2,858.6 821.2,858.6 821.2,858.6 821.2,858.6 821.2,858.7 821.2,858.7 821.2,858.7 821.3,858.7 821.3,858.7 821.3,858.7 821.3,858.7 821.3,858.7 821.3,858.7 821.3,858.7 821.3,858.7 821.3,858.7 821.3,858.7 821.3,858.7 821.3,858.7 821.3,858.7 821.3,858.7 821.3,858.7 821.3,858.7 821.3,858.7 821.3,858.7 821.3,858.7 821.3,858.7 821.3,858.7 821.3,858.7 821.3,858.7 821.3,858.7 821.3,858.7 821.3,858.7 821.3,858.7 821.3,858.7 821.3,858.7 821.3,858.7 821.3,858.7 821.3,858.7 821.3,858.7 821.3,858.7 821.3,858.7 821.3,858.7 821.3,858.7 821.3,858.7 821.3,858.7 821.3,858.7 821.3,858.7 821.3,858.7 821.3,858.7 821.3,858.7 821.3,858.7 821.3,858.7 821.3,858.7 821.3,858.7 821.3,858.7 821.3,858.7 821.3,858.7 821.3,858.7 821.3,858.7 821.3,858.7 821.3,858.7 821.3,858.7 821.3,858.7 821.3,858.7 821.3,858.7 821.3,858.7 821.3,858.7 821.3,858.7 821.3,858.7 821.3,858.7 821.3,858.7 821.3,858.7 821.3,858.7 821.3,858.7 821.3,858.7 821.3,858.7 821.3,858.7 821.3,858.7 821.3,858.7 821.3,858.7 821.3,858.7 821.3,858.7 821.3,858.7 821.3,858.7 821.3,858.7 821.3,858.7 821.3,858.7 821.3,858.7 821.3,858.7 821.3,858.7 821.3,858.7 821.3,858.7 821.3,858.7 821.3,858.7 821.3,858.7 821.3,858.7 821.3,858.7 821.3,858.7 821.3,858.7 821.3,858.7 821.3,858.7 821.3,858.7"/>
</g>
<rect x="504" y="97" width="594.1" height="287.9" fill="#000"/>
<rect x="493" y="85.1" width="593.2" height="289.3" fill="#fff" stroke="#000" stroke-width="1.2"/>
<path fill="#000" d="M539 103.6L553.1 113.8L547.7 130.4L530.3 130.4L524.9 113.8ZM526.3 172.6a12.8 12.8 0 1 0 25.6 0a12.8 12.8 0 1 0 -25.6 0ZM539.4 209L543.7 221.6L557 221.8L546.3 229.8L550.3 242.5L539.4 234.8L528.5 242.5L532.5 229.8L521.8 221.8L535.1 221.6ZM539.4 265.7L555.4 281.7L539.4 297.7L523.4 281.7Z"/>
<path stroke="#ff0000" stroke-width="4" d="M496 336.9H584"/>
<g font-family="'Liberation Sans',Arial,sans-serif" font-weight="bold" font-size="44.7" fill="#000">
<text transform="translate(580.5 130) scale(1 1.045)">0.5 h/1M HCl</text>
<text transform="translate(580.5 185) scale(1 1.045)" xml:space="preserve">6 h   /1M HCl</text>
<text transform="translate(580.5 239.4) scale(1 1.045)">12 h /1M HCl</text>
<text transform="translate(580.5 294.2) scale(1 1.045)">24 h /1M HCl</text>
<text transform="translate(594.5 348.9) scale(1 1.045)"><tspan font-size="45.05">Fit using [R</tspan><tspan font-size="23.5" dy="14">s</tspan><tspan font-size="45.05" dy="-14">+(CPE/R</tspan><tspan font-size="23.5" dy="14">p</tspan><tspan font-size="45.05" dy="-14">)]</tspan></text>
</g>
<rect x="1698" y="67.7" width="625" height="533.2" fill="#000"/>
<rect x="1675.1" y="45" width="623.4" height="532.85" fill="#fff" stroke="#000" stroke-width="2"/>
<g fill="none" stroke-linecap="round" stroke-width="9">
<path stroke="#ff00ff" d="M1753.3 105.4H1804.9M1779.1 79.6V131.2M1753.3 79.6L1804.9 131.2M1753.3 131.2L1804.9 79.6"/>
<path stroke="#0000ff" d="M1753.3 209.6H1804.9M1779.1 183.8V235.4M1753.3 183.8L1804.9 235.4M1753.3 235.4L1804.9 183.8"/>
<path stroke="#00ff00" d="M1753.3 313.8H1804.9M1779.1 288V339.6M1753.3 288L1804.9 339.6M1753.3 339.6L1804.9 288"/>
<path stroke="#ff8000" d="M1753.3 418H1804.9M1779.1 392.2V443.8M1753.3 392.2L1804.9 443.8M1753.3 443.8L1804.9 392.2"/>
<path stroke="#ff0000" stroke-width="10.8" d="M1686.2 521.4H1871.3"/>
</g>
<g font-family="'Liberation Sans',Arial,sans-serif" font-weight="bold" font-size="82.4" fill="#000">
<text transform="translate(1892.6 133) scale(1 1.045)">0.5 h/MPH</text>
<text transform="translate(1892.6 236.7) scale(1 1.045)" xml:space="preserve">6 h   /MPH</text>
<text transform="translate(1892.6 340.8) scale(1 1.045)">12 h /MPH</text>
<text transform="translate(1892.6 445.2) scale(1 1.045)">24 h /MPH</text>
<text transform="translate(1915.6 549.3) scale(1 1.045)">Fitting</text>
</g>
<path stroke="#000" stroke-width="11.3" stroke-linecap="round" stroke-linejoin="round" fill="none" d="M1600 40.2H2325.1V700"/>
</svg></body></html>
